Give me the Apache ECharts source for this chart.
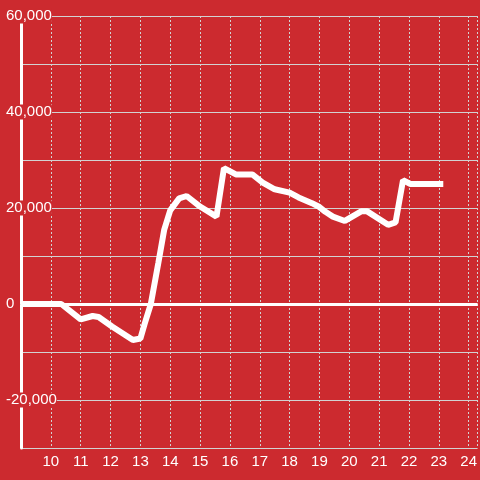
<!DOCTYPE html>
<html>
<head>
<meta charset="utf-8">
<script src="https://cdn.jsdelivr.net/npm/echarts@6/dist/echarts.min.js"></script>
<style>
  html, body { margin: 0; padding: 0; background: #cc2a2f; }
  #chart { width: 480px; height: 480px; }
</style>
</head>
<body>
<div id="chart"></div>
<script>
// hour of day
const hours = [9, 10.35, 11.0, 11.4, 11.6, 12.05, 12.75, 13.0, 13.15, 13.35, 13.6, 13.8, 14.0, 14.3, 14.55,
  15.0, 15.55, 15.8, 16.2, 16.75, 17.1, 17.5, 18.0, 18.3, 18.75, 19.0, 19.2, 19.45, 19.85,
  20.4, 20.6, 21.3, 21.55, 21.8, 22.05, 23.15]
const values = [0, 0, -3200, -2500, -2700, -4700, -7500, -7200, -4000, 0, 8500, 15500, 19500, 22000, 22500,
  20300, 18200, 28300, 27000, 27000, 25300, 23900, 23200, 22200, 21000, 20200, 19200, 18200, 17300,
  19300, 19300, 16500, 17000, 25800, 25000, 25000]
const yLabels = [-20000, 0, 20000, 40000, 60000]
const xLabels = [10, 11, 12, 13, 14, 15, 16, 17, 18, 19, 20, 21, 22, 23, 24]

const bg = '#cc2a2f'
const gridColor = '#d2d2d2'

const chart = echarts.init(document.getElementById('chart'))
chart.setOption({
  backgroundColor: bg,
  animation: false,
  textStyle: { fontFamily: 'Liberation Sans, Arial, sans-serif' },
  grid: { left: 21, top: 16, right: 0, bottom: 32 },
  xAxis: {
    type: 'value',
    min: 9,
    max: 24.3,
    interval: 1,
    axisLine: { show: true, lineStyle: { color: gridColor, width: 1 } },
    axisTick: { show: false },
    splitLine: { show: true, lineStyle: { color: gridColor, width: 1, type: [2, 2] } },
    axisLabel: {
      color: '#fff',
      fontSize: 15,
      margin: 6,
      showMaxLabel: false,
      formatter: v => (xLabels.indexOf(v) >= 0 ? String(v) : '')
    }
  },
  yAxis: {
    type: 'value',
    min: -30000,
    max: 60000,
    interval: 10000,
    axisLine: { show: true, lineStyle: { color: '#fff', width: 3 } },
    axisTick: { show: false },
    splitLine: { show: true, lineStyle: { color: gridColor, width: 1 } },
    axisLabel: {
      color: '#fff',
      fontSize: 15,
      align: 'left',
      margin: 15,
      backgroundColor: bg,
      formatter: v => (yLabels.indexOf(v) >= 0 ? v.toLocaleString('en-US') : '')
    }
  },
  series: [
    {
      type: 'line',
      data: hours.map((h, i) => [h, values[i]]),
      showSymbol: false,
      lineStyle: { color: '#fff', width: 6 },
      markLine: {
        silent: true,
        symbol: 'none',
        label: { show: false },
        lineStyle: { color: '#fff', width: 3, type: 'solid' },
        data: [{ yAxis: 0 }]
      }
    }
  ]
})
</script>
</body>
</html>
